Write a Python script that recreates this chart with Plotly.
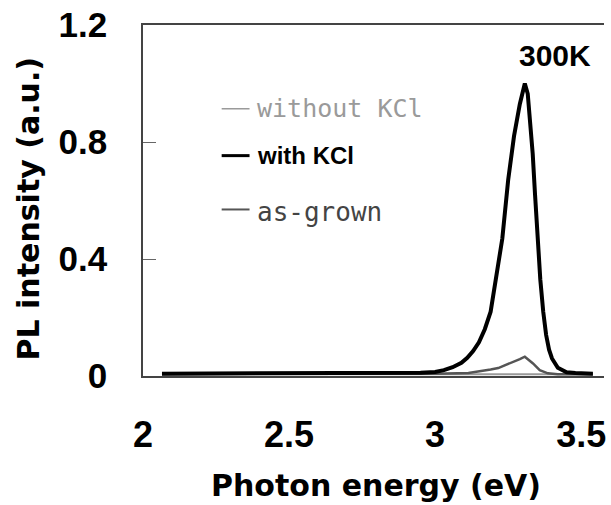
import plotly.graph_objects as go

# ---- data ----
energy_with = [2.065, 2.2, 2.4, 2.6, 2.8, 2.9, 2.95, 3.0, 3.03, 3.06, 3.09, 3.11, 3.13,
               3.15, 3.17, 3.19, 3.21, 3.23, 3.25, 3.27, 3.29, 3.307, 3.317, 3.326, 3.334,
               3.342, 3.351, 3.36, 3.37, 3.38, 3.39, 3.40, 3.42, 3.45, 3.48, 3.54]
pl_with = [0.008, 0.008, 0.008, 0.008, 0.009, 0.010, 0.011, 0.014, 0.020, 0.030, 0.045,
           0.062, 0.085, 0.115, 0.160, 0.220, 0.340, 0.470, 0.670, 0.820, 0.930, 1.000,
           0.965, 0.860, 0.760, 0.620, 0.464, 0.330, 0.220, 0.140, 0.090, 0.060, 0.028,
           0.013, 0.010, 0.008]

energy_asgrown = [2.065, 2.4, 2.8, 3.0, 3.114, 3.15, 3.19, 3.216, 3.25, 3.273, 3.29,
                  3.307, 3.32, 3.335, 3.358, 3.386, 3.42, 3.54]
pl_asgrown = [0.007, 0.007, 0.007, 0.008, 0.010, 0.015, 0.022, 0.027, 0.040, 0.049,
              0.058, 0.066, 0.055, 0.043, 0.020, 0.009, 0.006, 0.006]

energy_without = [2.065, 2.5, 3.0, 3.3, 3.54]
pl_without = [0.006, 0.006, 0.006, 0.007, 0.006]

x_ticks = [2, 2.5, 3, 3.5]
x_tick_labels = ["2", "2.5", "3", "3.5"]
y_ticks = [0, 0.4, 0.8, 1.2]
y_tick_labels = ["0", "0.4", "0.8", "1.2"]

fig = go.Figure()
fig.add_trace(go.Scatter(x=energy_without, y=pl_without, mode="lines",
                         line=dict(color="#9a9a9a", width=2), name="without KCl"))
fig.add_trace(go.Scatter(x=energy_asgrown, y=pl_asgrown, mode="lines",
                         line=dict(color="#555555", width=2.5), name="as-grown"))
fig.add_trace(go.Scatter(x=energy_with, y=pl_with, mode="lines",
                         line=dict(color="#000000", width=4), name="with KCl"))

W, H = 611, 505
L, R, T, B = 143, 5, 24, 129
pw = W - L - R
ph = H - T - B

def px(xp):
    return (xp - L) / pw

def py(yp):
    return (H - B - yp) / ph

fig.update_layout(
    width=W, height=H,
    margin=dict(l=L, r=R, t=T, b=B, pad=0),
    plot_bgcolor="white", paper_bgcolor="white",
    showlegend=False,
    xaxis=dict(range=[2, 2 + pw / 293.4], tickvals=x_ticks, ticktext=x_tick_labels,
               showgrid=False, zeroline=False, showline=True, linecolor="#444444",
               linewidth=1.5, mirror=True, ticks="", ticklabelstandoff=26,
               tickfont=dict(family="Liberation Sans", size=36, color="black", weight="bold")),
    yaxis=dict(range=[0, 1.2], tickvals=y_ticks, ticktext=y_tick_labels,
               showgrid=False, zeroline=False, showline=True, linecolor="#444444",
               linewidth=1.5, mirror=False, ticks="inside", ticklen=13, tickwidth=1,
               tickcolor="#666666", ticklabelstandoff=27,
               tickfont=dict(family="Liberation Sans", size=35, color="black", weight="bold")),
)

annotations = [
    dict(text="Photon energy (eV)", x=px(377), y=py(486), xref="paper", yref="paper",
         xanchor="center", yanchor="middle", showarrow=False,
         font=dict(family="DejaVu Sans", size=30, color="black", weight="bold")),
    dict(text="PL intensity (a.u.)", x=px(28), y=py(207.5), xref="paper", yref="paper",
         xanchor="center", yanchor="middle", showarrow=False, textangle=-90,
         font=dict(family="DejaVu Sans", size=30, color="black", weight="bold")),
    dict(text="300K", x=px(557), y=py(55), xref="paper", yref="paper",
         xanchor="center", yanchor="middle", showarrow=False,
         font=dict(family="Liberation Sans", size=30, color="black", weight="bold")),
    dict(text="without KCl", x=px(255), y=py(108), xref="paper", yref="paper",
         xanchor="left", yanchor="middle", showarrow=False,
         font=dict(family="DejaVu Sans Mono", size=25, color="#9a9a9a")),
    dict(text="with KCl", x=px(255), y=py(155), xref="paper", yref="paper",
         xanchor="left", yanchor="middle", showarrow=False,
         font=dict(family="Liberation Sans", size=24, color="black", weight="bold")),
    dict(text="as-grown", x=px(255), y=py(212), xref="paper", yref="paper",
         xanchor="left", yanchor="middle", showarrow=False,
         font=dict(family="DejaVu Sans Mono", size=26, color="#444444")),
]
fig.update_layout(annotations=annotations)

legend_lines = [(108, "#9a9a9a", 1.5), (155, "#000000", 3), (209, "#555555", 2)]
for yy, col, w in legend_lines:
    fig.add_shape(type="line", xref="paper", yref="paper",
                  x0=px(222), x1=px(250), y0=py(yy), y1=py(yy),
                  line=dict(color=col, width=w))

fig.write_html("out.html")
